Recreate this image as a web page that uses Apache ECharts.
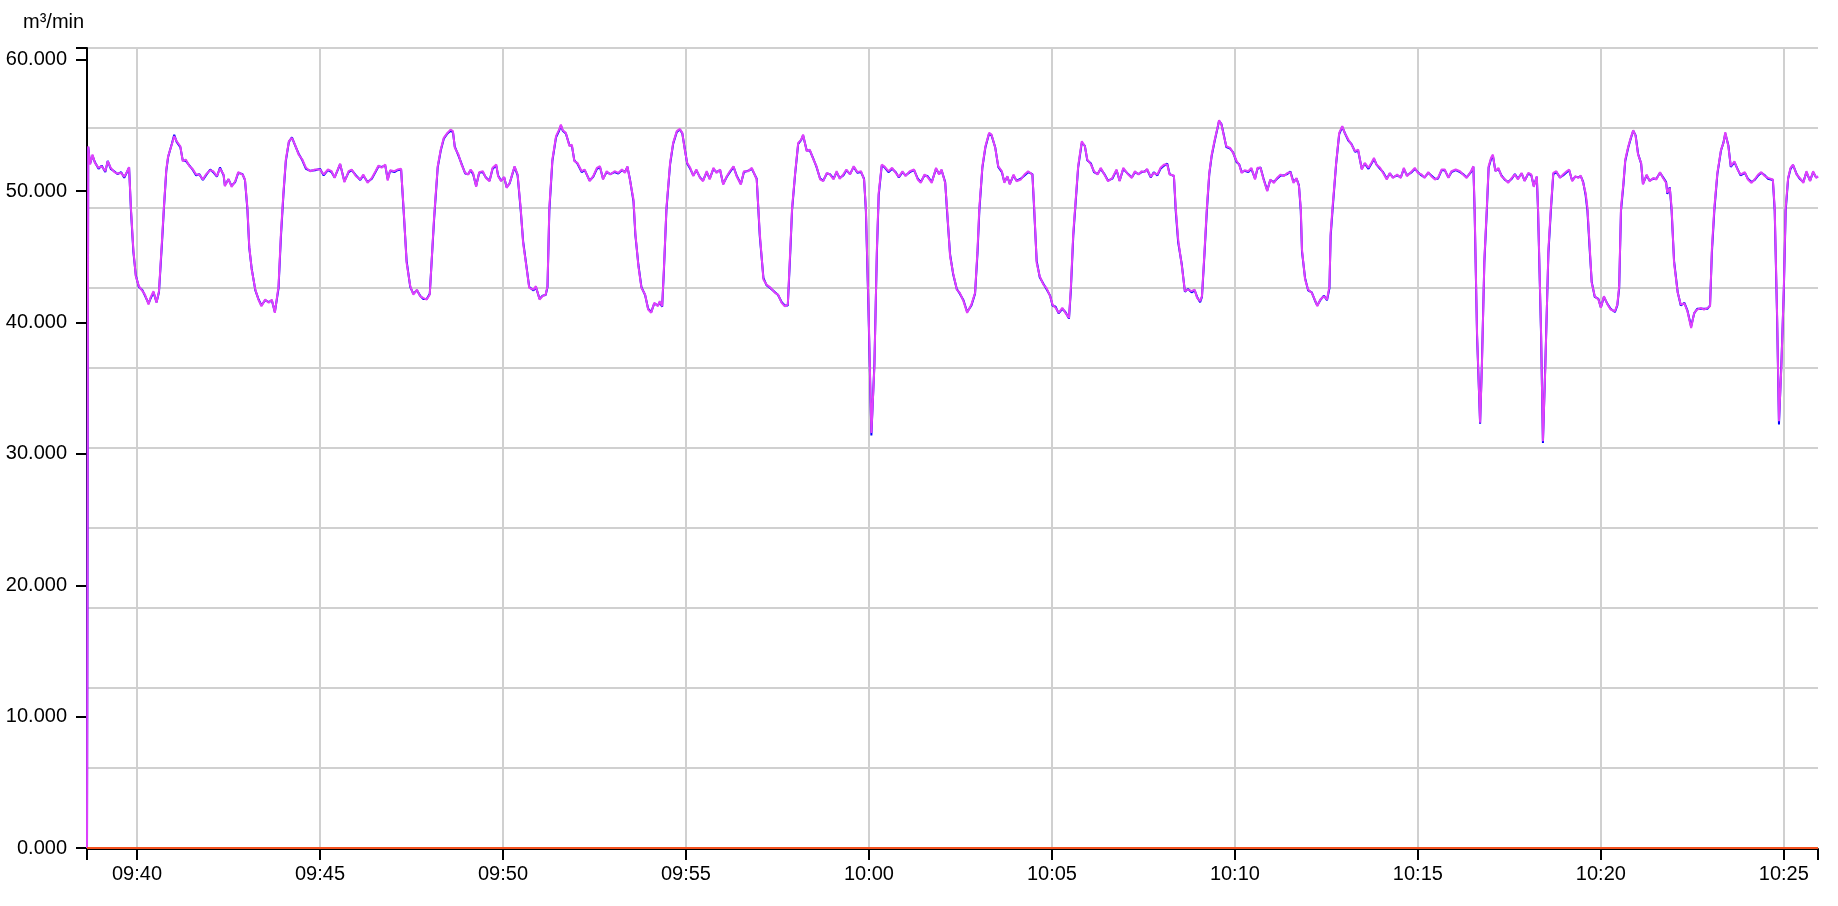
<!DOCTYPE html>
<html><head><meta charset="utf-8">
<script src="https://cdn.jsdelivr.net/npm/echarts@6/dist/echarts.min.js"></script>
<style>html,body{margin:0;padding:0;background:#fff}#c{width:1838px;height:906px}</style>
</head><body><div id="c"></div>
<script>
const times = [
'09:38:38','09:38:40','09:38:43','09:38:47','09:38:51','09:38:57','09:39:02','09:39:08','09:39:12','09:39:17',
'09:39:23','09:39:28','09:39:34','09:39:39','09:39:44','09:39:47','09:39:50','09:39:54','09:39:58','09:40:03',
'09:40:09','09:40:13','09:40:19','09:40:22','09:40:27','09:40:32','09:40:36','09:40:41','09:40:44','09:40:48',
'09:40:51','09:40:57','09:41:01','09:41:05','09:41:11','09:41:15','09:41:20','09:41:26','09:41:31','09:41:37',
'09:41:42','09:41:48','09:41:53','09:42:00','09:42:05','09:42:11','09:42:16','09:42:22','09:42:24','09:42:30',
'09:42:35','09:42:41','09:42:46','09:42:53','09:42:57','09:43:01','09:43:04','09:43:08','09:43:14','09:43:19',
'09:43:24','09:43:30','09:43:36','09:43:41','09:43:46','09:43:52','09:43:56','09:44:00','09:44:04','09:44:09',
'09:44:14','09:44:19','09:44:25','09:44:31','09:44:37','09:44:44','09:44:52','09:45:00','09:45:06','09:45:13',
'09:45:19','09:45:24','09:45:29','09:45:33','09:45:40','09:45:47','09:45:52','09:45:59','09:46:06','09:46:11',
'09:46:18','09:46:25','09:46:31','09:46:36','09:46:41','09:46:47','09:46:51','09:46:55','09:47:02','09:47:07',
'09:47:13','09:47:17','09:47:22','09:47:28','09:47:33','09:47:39','09:47:44','09:47:49','09:47:55','09:48:00',
'09:48:07','09:48:13','09:48:18','09:48:23','09:48:29','09:48:34','09:48:38','09:48:41','09:48:47','09:48:52',
'09:48:58','09:49:03','09:49:07','09:49:11','09:49:16','09:49:21','09:49:27','09:49:32','09:49:38','09:49:43',
'09:49:49','09:49:52','09:49:57','09:50:02','09:50:06','09:50:11','09:50:19','09:50:24','09:50:29','09:50:33',
'09:50:39','09:50:43','09:50:50','09:50:54','09:51:00','09:51:05','09:51:10','09:51:13','09:51:16','09:51:21',
'09:51:27','09:51:32','09:51:35','09:51:38','09:51:43','09:51:49','09:51:53','09:51:57','09:52:02','09:52:09',
'09:52:14','09:52:22','09:52:28','09:52:34','09:52:39','09:52:44','09:52:50','09:52:56','09:53:03','09:53:09',
'09:53:15','09:53:20','09:53:24','09:53:28','09:53:34','09:53:37','09:53:42','09:53:47','09:53:53','09:53:58',
'09:54:03','09:54:08','09:54:14','09:54:17','09:54:21','09:54:24','09:54:28','09:54:34','09:54:39','09:54:45',
'09:54:50','09:54:54','09:54:58','09:55:02','09:55:07','09:55:12','09:55:17','09:55:23','09:55:28','09:55:34',
'09:55:39','09:55:45','09:55:50','09:55:56','09:56:01','09:56:07','09:56:12','09:56:18','09:56:23','09:56:30',
'09:56:35','09:56:42','09:56:48','09:56:51','09:56:56','09:57:01','09:57:07','09:57:12','09:57:19','09:57:26',
'09:57:31','09:57:37','09:57:42','09:57:47','09:57:51','09:57:54','09:57:59','09:58:04','09:58:09','09:58:12',
'09:58:18','09:58:23','09:58:29','09:58:34','09:58:40','09:58:45','09:58:51','09:58:56','09:59:02','09:59:07',
'09:59:12','09:59:18','09:59:23','09:59:29','09:59:35','09:59:41','09:59:47','09:59:52','09:59:55','09:59:59',
'10:00:04','10:00:09','10:00:13','10:00:16','10:00:21','10:00:25','10:00:32','10:00:38','10:00:44','10:00:49',
'10:00:55','10:01:00','10:01:07','10:01:14','10:01:20','10:01:25','10:01:31','10:01:36','10:01:43','10:01:50',
'10:01:55','10:01:59','10:02:05','10:02:08','10:02:13','10:02:18','10:02:24','10:02:29','10:02:35','10:02:41',
'10:02:48','10:02:54','10:02:58','10:03:01','10:03:06','10:03:11','10:03:17','10:03:21','10:03:27','10:03:32',
'10:03:38','10:03:42','10:03:47','10:03:51','10:03:57','10:04:02','10:04:09','10:04:15','10:04:21','10:04:28',
'10:04:31','10:04:35','10:04:40','10:04:46','10:04:51','10:04:57','10:05:01','10:05:06','10:05:11','10:05:17',
'10:05:22','10:05:28','10:05:31','10:05:35','10:05:39','10:05:43','10:05:49','10:05:54','10:05:58','10:06:04',
'10:06:09','10:06:15','10:06:20','10:06:26','10:06:32','10:06:39','10:06:46','10:06:51','10:06:57','10:07:05',
'10:07:11','10:07:16','10:07:22','10:07:27','10:07:32','10:07:36','10:07:42','10:07:47','10:07:53','10:07:58',
'10:08:04','10:08:09','10:08:13','10:08:20','10:08:23','10:08:27','10:08:33','10:08:38','10:08:43','10:08:49',
'10:08:54','10:08:58','10:09:03','10:09:06','10:09:10','10:09:14','10:09:18','10:09:22','10:09:27','10:09:32',
'10:09:34','10:09:38','10:09:42','10:09:46','10:09:52','10:09:57','10:10:03','10:10:07','10:10:11','10:10:16',
'10:10:22','10:10:27','10:10:33','10:10:37','10:10:42','10:10:47','10:10:53','10:10:58','10:11:04','10:11:09',
'10:11:15','10:11:20','10:11:26','10:11:31','10:11:36','10:11:41','10:11:45','10:11:48','10:11:50','10:11:55',
'10:12:00','10:12:06','10:12:11','10:12:15','10:12:20','10:12:26','10:12:31','10:12:35','10:12:37','10:12:40',
'10:12:46','10:12:51','10:12:56','10:13:00','10:13:06','10:13:11','10:13:17','10:13:22','10:13:28','10:13:33',
'10:13:39','10:13:44','10:13:48','10:13:52','10:13:58','10:14:03','10:14:09','10:14:14','10:14:19','10:14:26',
'10:14:32','10:14:37','10:14:42','10:14:50','10:14:55','10:15:00','10:15:06','10:15:11','10:15:17','10:15:22',
'10:15:28','10:15:33','10:15:39','10:15:44','10:15:50','10:15:55','10:16:02','10:16:09','10:16:14','10:16:20',
'10:16:23','10:16:27','10:16:31','10:16:33','10:16:37','10:16:42','10:16:45','10:16:49','10:16:53','10:16:56',
'10:17:00','10:17:03','10:17:07','10:17:12','10:17:17','10:17:23','10:17:28','10:17:34','10:17:39','10:17:44',
'10:17:50','10:17:55','10:18:01','10:18:06','10:18:10','10:18:15','10:18:17','10:18:22','10:18:25','10:18:29',
'10:18:34','10:18:38','10:18:42','10:18:47','10:18:53','10:18:58','10:19:04','10:19:08','10:19:13','10:19:18',
'10:19:23','10:19:27','10:19:31','10:19:35','10:19:38','10:19:42','10:19:45','10:19:50','10:19:56','10:20:00',
'10:20:05','10:20:11','10:20:16','10:20:23','10:20:27','10:20:30','10:20:33','10:20:37','10:20:40','10:20:45',
'10:20:49','10:20:53','10:20:57','10:21:01','10:21:06','10:21:09','10:21:15','10:21:20','10:21:26','10:21:31',
'10:21:37','10:21:42','10:21:47','10:21:49','10:21:53','10:21:56','10:22:00','10:22:06','10:22:11','10:22:17',
'10:22:22','10:22:28','10:22:33','10:22:38','10:22:44','10:22:49','10:22:55','10:22:59','10:23:02','10:23:06',
'10:23:11','10:23:17','10:23:21','10:23:24','10:23:29','10:23:33','10:23:39','10:23:44','10:23:49','10:23:56',
'10:24:01','10:24:07','10:24:12','10:24:18','10:24:23','10:24:29','10:24:34','10:24:42','10:24:45','10:24:49',
'10:24:52','10:24:56','10:25:00','10:25:03','10:25:07','10:25:11','10:25:15','10:25:21','10:25:26','10:25:32',
'10:25:37','10:25:43','10:25:48','10:25:53','10:25:56'
];
const flowBlue = [
0,53.35,52.10,52.70,52.20,51.70,51.95,51.45,52.30,51.70,
51.50,51.30,51.45,51.02,51.50,51.80,48.60,45.40,43.60,42.70,
42.45,42.05,41.45,41.80,42.30,41.55,42.30,46.10,48.60,51.55,
52.60,53.60,54.30,53.75,53.35,52.35,52.30,51.95,51.65,51.20,
51.30,50.85,51.20,51.65,51.45,51.10,51.80,51.20,50.45,50.90,
50.40,50.70,51.40,51.30,50.85,48.60,45.70,44.10,42.45,41.80,
41.30,41.70,41.55,41.70,40.80,42.60,46.60,49.70,52.30,53.75,
54.10,53.50,52.85,52.35,51.70,51.55,51.60,51.70,51.20,51.60,
51.45,51.05,51.60,52.05,50.75,51.45,51.60,51.20,50.85,51.20,
50.70,50.95,51.45,51.90,51.85,51.95,50.90,51.55,51.45,51.60,
51.65,48.60,44.70,42.70,42.20,42.45,42.05,41.80,41.80,42.20,
47.80,51.80,53.10,54.00,54.40,54.60,54.50,53.40,52.70,52.10,
51.35,51.30,51.60,51.30,50.40,51.40,51.45,51.05,50.80,51.70,
51.95,51.20,50.80,51.05,50.30,50.60,51.85,51.20,48.60,46.20,
44.10,42.70,42.45,42.70,41.80,42.05,42.10,42.70,48.50,52.30,
54.10,54.60,55.00,54.60,54.40,53.50,53.45,52.35,52.10,51.45,
51.60,50.80,51.10,51.70,51.85,50.95,51.45,51.30,51.45,51.35,
51.60,51.45,51.85,50.95,49.20,46.70,44.40,42.70,42.10,41.05,
40.80,41.45,41.30,41.55,41.20,44.10,48.60,52.05,53.60,54.50,
54.70,54.40,53.25,52.10,51.70,51.20,51.60,51.05,50.80,51.45,
50.95,51.70,51.45,51.60,50.55,51.10,51.45,51.85,51.20,50.55,
51.45,51.55,51.70,51.85,50.95,46.60,43.40,42.85,42.60,42.30,
42.10,41.55,41.30,41.30,45.30,48.60,51.30,53.60,53.90,54.25,
53.10,53.10,52.45,51.85,50.95,50.80,51.35,51.30,50.95,51.45,
51.00,51.20,51.60,51.30,51.85,51.40,51.45,50.95,48.50,41.40,
31.40,36.90,45.30,49.70,51.95,51.85,51.45,51.70,51.45,51.05,
51.45,51.20,51.45,51.60,50.95,50.70,51.20,51.15,50.70,51.70,
51.30,51.60,50.70,48.50,45.20,43.70,42.55,42.20,41.70,40.80,
41.30,42.20,45.30,48.50,51.80,53.35,54.40,54.25,53.35,51.85,
51.45,50.70,51.10,50.55,51.20,50.80,50.95,51.20,51.45,51.30,
48.50,44.70,43.45,42.95,42.55,42.05,41.30,41.20,40.70,41.05,
40.80,40.30,42.40,46.60,49.20,51.80,53.70,53.45,52.35,52.10,
51.45,51.30,51.70,51.30,50.80,50.95,51.60,50.80,51.70,51.30,
51.05,51.45,51.30,51.45,51.50,51.65,51.05,51.45,51.20,51.70,
51.95,52.10,51.30,51.15,48.50,46.10,44.40,42.35,42.55,42.30,
42.45,41.95,41.55,41.95,45.10,48.50,51.30,52.70,53.85,54.90,
55.35,55.10,54.25,53.35,53.25,52.95,52.20,52.05,51.45,51.55,
51.45,51.70,50.95,51.70,51.80,50.95,50.05,50.85,50.70,50.95,
51.20,51.20,51.30,51.50,50.70,50.95,50.45,48.50,45.40,43.40,
42.45,42.30,41.70,41.30,41.70,42.05,41.70,42.60,46.60,48.50,
52.10,54.35,54.90,54.45,53.85,53.60,53.00,53.10,51.70,52.10,
51.70,52.10,52.45,52.05,51.70,51.45,50.95,51.35,51.05,51.20,
51.05,51.70,51.20,51.45,51.70,51.45,51.20,51.05,51.40,51.20,
50.95,50.95,51.60,51.60,51.05,51.45,51.60,51.45,51.30,51.05,
51.10,51.45,51.85,48.50,39.00,32.30,36.90,44.60,48.50,51.80,
52.45,52.70,51.55,51.70,51.20,50.85,50.70,50.95,51.30,50.95,
51.35,50.80,51.35,51.20,50.40,51.10,48.50,39.00,30.84,36.90,
45.30,48.50,51.30,51.45,51.05,51.20,51.45,51.60,50.80,51.10,
51.05,51.15,50.70,49.70,48.50,45.30,43.10,41.95,41.80,41.15,
41.95,41.40,41.05,40.80,41.30,42.60,48.50,50.50,52.30,53.35,
54.00,54.60,54.25,52.85,52.10,50.55,51.20,50.80,50.95,50.95,
51.40,51.05,50.70,49.80,50.30,48.50,44.70,42.30,41.30,41.50,
40.90,39.70,40.70,41.05,41.05,41.05,41.05,41.30,45.30,48.50,
51.30,53.10,53.70,54.40,53.50,51.85,52.20,51.70,51.20,51.40,
50.95,50.70,50.85,51.20,51.40,51.20,50.95,50.85,48.50,40.20,
32.24,36.90,42.50,48.50,50.95,51.70,52.00,51.30,50.95,50.70,
51.45,50.80,51.45,51.05,51.10
];
const flowMagenta = [
0,53.42,52.03,52.79,52.16,51.78,51.90,51.52,52.28,51.78,
51.45,51.34,51.39,51.09,51.52,51.83,48.73,45.56,43.53,42.77,
42.39,42.13,41.37,41.88,42.39,41.50,42.39,46.32,48.73,51.65,
52.66,53.55,54.19,53.80,53.42,52.28,52.41,51.90,51.70,51.27,
51.27,50.89,51.27,51.60,51.52,51.14,51.72,51.27,50.38,50.94,
50.33,50.76,51.45,51.27,50.89,48.73,45.81,44.04,42.51,41.75,
41.24,41.75,41.50,41.75,40.74,42.77,46.83,49.87,52.41,53.80,
54.06,53.55,52.79,52.41,51.78,51.52,51.65,51.65,51.27,51.65,
51.52,51.01,51.65,52.10,50.68,51.52,51.65,51.14,50.89,51.27,
50.63,51.01,51.52,51.95,51.78,52.03,50.81,51.60,51.52,51.65,
51.70,48.73,44.54,42.77,42.13,42.51,42.01,41.88,41.75,42.13,
48.00,51.90,53.17,54.06,54.44,54.69,54.57,53.30,52.79,52.03,
51.39,51.27,51.65,51.39,50.33,51.45,51.52,51.01,50.76,51.78,
52.03,51.14,50.76,51.09,50.25,50.63,51.90,51.27,48.73,46.07,
44.04,42.64,42.51,42.77,41.75,42.01,42.13,42.77,48.73,52.41,
54.19,54.69,55.07,54.64,54.44,53.42,53.55,52.28,52.16,51.52,
51.65,50.76,51.14,51.78,51.90,50.89,51.52,51.27,51.52,51.39,
51.65,51.39,51.90,50.89,49.37,46.83,44.29,42.64,42.13,40.99,
40.74,41.50,41.24,41.63,41.24,44.29,48.73,52.16,53.68,54.57,
54.74,54.44,53.17,52.16,51.78,51.14,51.65,51.01,50.76,51.52,
50.89,51.78,51.39,51.65,50.51,51.14,51.52,51.90,51.14,50.51,
51.52,51.52,51.78,51.90,50.89,46.83,43.28,42.89,42.64,42.26,
42.13,41.50,41.24,41.37,45.56,48.73,51.39,53.68,53.93,54.31,
53.04,53.17,52.41,51.90,50.89,50.76,51.39,51.27,50.89,51.52,
50.94,51.27,51.65,51.27,51.90,51.45,51.52,50.89,48.73,41.75,
31.60,36.68,45.56,49.87,52.03,51.90,51.52,51.78,51.39,51.09,
51.52,51.14,51.52,51.65,50.89,50.63,51.27,51.09,50.63,51.78,
51.27,51.65,50.63,48.73,45.05,43.78,42.51,42.26,41.63,40.74,
41.37,42.26,45.56,48.73,51.90,53.42,54.44,54.31,53.30,51.90,
51.52,50.63,51.14,50.51,51.27,50.76,50.89,51.27,51.52,51.27,
48.73,44.54,43.53,42.89,42.64,42.01,41.37,41.12,40.74,41.12,
40.74,40.36,42.64,46.83,49.37,51.90,53.80,53.42,52.41,52.03,
51.52,51.27,51.78,51.27,50.76,51.01,51.65,50.76,51.78,51.27,
51.01,51.52,51.27,51.52,51.45,51.70,51.09,51.39,51.27,51.78,
52.03,52.03,51.27,51.19,48.73,46.32,44.29,42.39,42.51,42.39,
42.51,41.88,41.63,42.01,45.30,48.73,51.39,52.79,53.93,54.95,
55.40,55.07,54.19,53.42,53.30,52.92,52.28,52.03,51.39,51.60,
51.52,51.78,50.89,51.78,51.78,50.89,50.00,50.89,50.63,51.01,
51.27,51.14,51.39,51.45,50.63,51.01,50.38,48.73,45.56,43.28,
42.51,42.26,41.75,41.24,41.75,42.01,41.75,42.77,46.83,48.73,
52.16,54.44,54.95,54.44,53.93,53.55,53.04,53.17,51.65,52.16,
51.78,52.16,52.54,52.03,51.78,51.39,50.89,51.39,51.01,51.27,
51.01,51.78,51.14,51.52,51.78,51.39,51.27,51.01,51.45,51.14,
50.89,51.01,51.65,51.65,51.01,51.52,51.65,51.52,51.27,51.01,
51.14,51.52,51.90,48.73,39.21,32.37,36.68,44.80,48.73,51.90,
52.54,52.79,51.52,51.78,51.14,50.89,50.63,51.01,51.27,50.89,
51.39,50.76,51.39,51.27,50.33,51.14,48.73,39.21,30.97,36.68,
45.56,48.73,51.39,51.52,51.01,51.27,51.52,51.65,50.76,51.14,
51.01,51.19,50.63,49.87,48.73,45.56,43.02,42.01,41.75,41.12,
42.01,41.37,40.99,40.86,41.37,42.77,48.73,50.63,52.41,53.42,
54.06,54.64,54.19,52.79,52.16,50.51,51.27,50.76,51.01,50.89,
51.45,51.01,50.63,49.87,50.25,48.73,44.54,42.26,41.37,41.45,
40.86,39.59,40.74,40.99,41.12,40.99,41.12,41.24,45.56,48.73,
51.39,53.17,53.68,54.49,53.42,51.90,52.28,51.65,51.27,51.45,
50.89,50.63,50.89,51.27,51.45,51.14,51.01,50.89,48.73,40.48,
32.49,36.68,42.77,48.73,51.01,51.78,52.03,51.27,51.01,50.63,
51.52,50.76,51.52,51.01,51.14
];
const zeroTimes = ['09:38:38', '10:25:56'];
const zeroValues = [0, 0];
const xTickLabels = ['09:40','09:45','09:50','09:55','10:00','10:05','10:10','10:15','10:20','10:25'];
const yTickValues = [0, 10, 20, 30, 40, 50, 60];
const yMax = 60.9;
const gridDivisions = 10;
const unitLabel = 'm³/min';

function toSec(t) { const p = t.split(':').map(Number); return p[0] * 3600 + p[1] * 60 + (p[2] || 0); }
function fmtHM(s) { const h = Math.floor(s / 3600), m = Math.round((s % 3600) / 60); return String(h).padStart(2, '0') + ':' + String(m).padStart(2, '0'); }

const FONT = "'Liberation Sans', Arial, Helvetica, sans-serif";
const xMin = toSec(times[0]), xMax = toSec(times[times.length - 1]);
const xLabelVals = xTickLabels.map(toSec);
const pairs = (ts, vs) => ts.map((t, i) => [toSec(t), vs[i]]);

const chart = echarts.init(document.getElementById('c'), null, { renderer: 'canvas' });
chart.setOption({
  animation: false,
  backgroundColor: '#ffffff',
  grid: { left: 87, right: 20, top: 48, bottom: 58, containLabel: false },
  graphic: [{
    type: 'text', left: 23, top: 12,
    style: { text: unitLabel, fill: '#000', font: '20px ' + FONT }
  }],
  xAxis: {
    type: 'value', min: xMin, max: xMax, offset: 1,
    axisLine: { show: true, onZero: false, lineStyle: { color: '#000', width: 2 } },
    axisTick: { show: true, length: 11, lineStyle: { color: '#000', width: 2 }, customValues: [xMin].concat(xLabelVals, [xMax]) },
    axisLabel: { customValues: xLabelVals, formatter: v => fmtHM(v), margin: 15, color: '#000', fontSize: 20, fontFamily: FONT },
    splitLine: { show: false }
  },
  yAxis: [{
    type: 'value', min: 0, max: yMax, position: 'left',
    axisLine: { show: true, lineStyle: { color: '#000', width: 2 } },
    axisTick: { show: true, length: 11, lineStyle: { color: '#000', width: 2 }, customValues: yTickValues.concat([yMax]) },
    axisLabel: { customValues: yTickValues, formatter: v => v.toFixed(3), margin: 20, color: '#000', fontSize: 20, fontFamily: FONT },
    splitLine: { show: false }
  }, {
    type: 'value', min: 0, max: gridDivisions, interval: 1, position: 'right',
    axisLine: { show: false }, axisTick: { show: false }, axisLabel: { show: false },
    splitLine: { show: true, lineStyle: { color: '#d0d0d0', width: 2 } }
  }],
  series: [{
    name: 'grid', type: 'line', data: [], silent: true, z: 1,
    markLine: {
      silent: true, z: 1, animation: false, symbol: ['none', 'none'], label: { show: false },
      emphasis: { disabled: true },
      lineStyle: { color: '#d0d0d0', width: 2, type: 'solid' },
      data: xLabelVals.map(v => ({ xAxis: v }))
    }
  }, {
    name: 'A', type: 'line', data: pairs(times, flowBlue), showSymbol: false, symbol: 'none',
    lineStyle: { color: '#0000ff', width: 2 }, itemStyle: { color: '#0000ff' }, z: 3, silent: true
  }, {
    name: 'B', type: 'line', data: pairs(times, flowMagenta), showSymbol: false, symbol: 'none',
    lineStyle: { color: '#e040fb', width: 2 }, itemStyle: { color: '#e040fb' }, z: 4, silent: true
  }, {
    name: 'Z', type: 'line', data: pairs(zeroTimes, zeroValues), showSymbol: false, symbol: 'none',
    lineStyle: { color: '#f4511e', width: 2 }, itemStyle: { color: '#f4511e' }, z: 5, silent: true
  }]
});
</script>
</body></html>
